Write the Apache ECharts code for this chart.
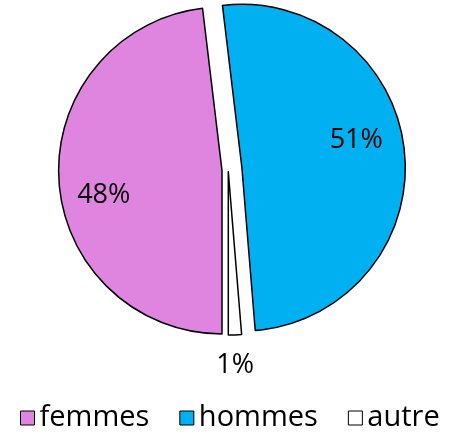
<!DOCTYPE html>
<html>
<head>
<meta charset="utf-8">
<script src="https://cdn.jsdelivr.net/npm/echarts@6/dist/echarts.min.js"></script>
<style>
  html, body { margin: 0; padding: 0; background: #ffffff; }
  #chart { width: 462px; height: 439px; }
</style>
</head>
<body>
<div id="chart"></div>
<script>
// ---- data ----
const categories = ['femmes', 'hommes', 'autre'];
const shares = [48.1, 50.6, 1.3];

// ---- styling / layout ----
const colors = ['#DF85DF', '#00B0F0', '#FFFFFF'];
const centers = [[222, 170.6], [241.9, 167.7], [228.3, 171.7]];
const labelShift = [[-33.7, 19.7], [30.1, -19.3], [3.4, 108.7]];
const R = 163.4;
const FONT = 'Open Sans';

const series = categories.map((cat, k) => ({
  type: 'pie',
  radius: R,
  center: centers[k],
  startAngle: -90,
  clockwise: true,
  avoidLabelOverlap: false,
  percentPrecision: 0,
  animation: false,
  labelLine: { show: false },
  emphasis: { disabled: true },
  labelLayout: { dx: labelShift[k][0], dy: labelShift[k][1] },
  data: categories.map((c, j) => j === k ? {
    name: c,
    value: shares[j],
    itemStyle: { color: colors[j], borderColor: '#000000', borderWidth: 1.5 },
    label: { show: true, position: 'inside', formatter: '{d}%', color: '#000000', fontSize: 27, fontFamily: FONT }
  } : {
    name: '_' + k + '_' + j,
    value: shares[j],
    itemStyle: { color: 'rgba(0,0,0,0)', borderWidth: 0 },
    label: { show: false }
  })
}));

const chart = echarts.init(document.getElementById('chart'), null, { renderer: 'canvas' });
chart.setOption({
  backgroundColor: '#ffffff',
  animation: false,
  legend: {
    data: categories.map((c, j) => ({
      name: c,
      itemStyle: { color: colors[j], borderColor: '#000000', borderWidth: 1 }
    })),
    left: 15,
    top: 398,
    icon: 'rect',
    itemWidth: 14,
    itemHeight: 14,
    itemGap: 30,
    selectedMode: false,
    textStyle: { fontSize: 29, fontFamily: FONT, color: '#000000', lineHeight: 30 }
  },
  series: series
});
</script>
</body>
</html>
